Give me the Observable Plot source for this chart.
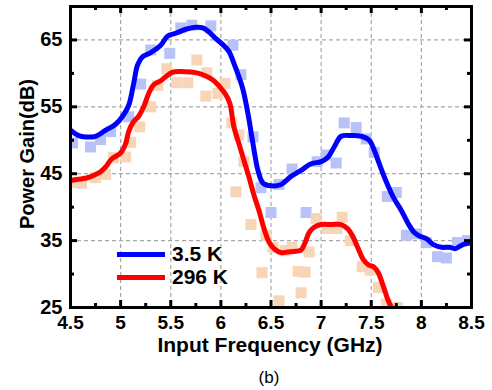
<!DOCTYPE html>
<html><head><meta charset="utf-8">
<script src="https://cdn.jsdelivr.net/npm/d3@7"></script>
<script src="https://cdn.jsdelivr.net/npm/@observablehq/plot@0.6"></script>
<style>
body{margin:0;background:#fff;font-family:"Liberation Sans",Arial,sans-serif;}
#wrap{position:relative;width:492px;height:390px;background:#fff;}
#wrap svg{position:absolute;left:0;top:0;}
.abs{position:absolute;white-space:nowrap;color:#000;}
</style></head><body>
<div id="wrap"></div>
<script>
// ---- data ----
const seriesNames = ["3.5 K", "296 K"];
const lineColors = ["#0000ff", "#ff0000"];
const squareColors = ["#b8c2f8", "#f9d5b7"];
const xTicks = [4.5, 5, 5.5, 6, 6.5, 7, 7.5, 8, 8.5];
const xMinor = [4.75, 5.25, 5.75, 6.25, 6.75, 7.25, 7.75, 8.25];
const yTicks = [25, 35, 45, 55, 65];
const yMinor = [30, 40, 50, 60];
const xGridVals = [5, 5.5, 6, 6.5, 7, 7.5, 8];
const yGridVals = [35, 45, 55, 65];

// 3.5 K smoothed line
const coldLineFreq = [4.50,4.58,4.65,4.75,4.85,4.95,5.02,5.08,5.13,5.17,5.22,5.30,5.40,5.47,5.55,5.65,5.75,5.82,5.88,5.95,6.02,6.08,6.13,6.18,6.22,6.27,6.32,6.37,6.42,6.50,6.60,6.70,6.80,6.90,7.00,7.07,7.13,7.20,7.30,7.40,7.48,7.53,7.58,7.65,7.72,7.80,7.87,7.93,7.98,8.05,8.12,8.20,8.28,8.34,8.40,8.46,8.50];
const coldLineGain = [51.5,50.7,50.5,50.6,51.5,52.4,53.6,55.2,58.5,61.3,62.5,63.1,64.2,65.6,66.0,66.6,66.9,66.8,66.2,65.2,64.3,63.3,61.5,59.5,57.6,54.0,49.5,45.5,43.6,43.2,43.4,44.6,45.5,46.5,46.8,47.5,49.0,50.6,50.7,50.6,50.0,48.5,46.5,43.8,41.5,39.5,37.5,36.2,35.7,35.3,34.4,34.0,34.0,33.8,34.3,34.6,34.7];
// 3.5 K measured squares
const coldPtFreq = [4.52,4.70,4.80,4.90,5.08,5.20,5.30,5.49,5.60,5.71,5.90,6.12,6.20,6.32,6.40,6.50,6.58,6.71,6.85,6.96,7.05,7.15,7.23,7.35,7.45,7.53,7.66,7.75,7.85,7.95,8.05,8.16,8.25,8.36,8.46];
const coldPtGain = [49.6,49.0,50.1,51.3,53.5,58.4,63.5,63.0,66.8,67.2,67.1,64.2,59.8,50.5,42.9,39.2,43.4,45.7,39.2,46.8,47.8,46.6,52.6,51.9,50.2,48.2,41.6,42.2,35.8,36.0,34.7,32.6,32.4,34.7,35.0];

// 296 K smoothed line
const warmLineFreq = [4.50,4.60,4.67,4.75,4.80,4.85,4.91,5.00,5.05,5.08,5.13,5.18,5.23,5.28,5.33,5.40,5.45,5.52,5.60,5.70,5.78,5.85,5.92,6.00,6.05,6.09,6.13,6.18,6.23,6.28,6.33,6.38,6.43,6.48,6.53,6.60,6.67,6.75,6.80,6.84,6.88,6.93,7.00,7.10,7.20,7.27,7.32,7.37,7.42,7.47,7.53,7.57,7.62,7.67,7.72];
const warmLineGain = [44.0,44.2,44.4,44.9,45.3,46.0,47.2,48.1,49.5,51.3,52.8,53.6,55.0,57.0,58.3,58.9,59.5,60.2,60.3,60.2,60.0,59.6,59.0,57.8,56.8,55.5,52.0,49.5,47.0,44.5,41.8,39.5,36.8,34.8,33.8,33.2,33.3,33.4,33.6,34.7,36.2,37.0,37.4,37.4,37.4,36.7,35.5,33.8,32.2,31.4,31.0,30.2,28.2,26.0,24.5];
// 296 K measured squares
const warmPtFreq = [4.51,4.61,4.75,4.85,4.93,5.05,5.10,5.19,5.30,5.37,5.46,5.56,5.67,5.76,5.86,5.85,5.97,6.04,6.11,6.18,6.23,6.15,6.30,6.45,6.52,6.41,6.58,6.64,6.71,6.77,6.80,6.84,6.88,6.95,7.06,7.16,7.21,7.29,7.41,7.49,7.57,7.65,7.76];
const warmPtGain = [43.7,43.6,44.4,44.9,47.4,47.5,49.7,52.0,55.0,58.2,60.7,58.6,58.6,62.0,60.1,56.6,57.0,58.5,52.6,50.8,46.8,42.3,37.4,35.8,34.0,30.2,26.0,33.5,34.0,30.4,27.2,30.3,33.3,38.3,36.8,36.8,38.5,35.0,31.1,30.6,28.0,25.5,25.0];

const zip = (xs, ys) => xs.map((x, i) => ({x, y: ys[i]}));
const coldLine = zip(coldLineFreq, coldLineGain);
const warmLine = zip(warmLineFreq, warmLineGain);
const coldPts = zip(coldPtFreq, coldPtGain);
const warmPts = zip(warmPtFreq, warmPtGain);

// ---- layout ----
const W = 492, H = 355, mL = 70, mR = 21, mT = 6, mB = 48;
const plotW = W - mL - mR, plotH = H - mT - mB;
const FONT = '"Liberation Sans", Arial, sans-serif';
const majorLen = 7, minorLen = 4;

const chart = Plot.plot({
  width: W, height: H,
  marginLeft: mL, marginRight: mR, marginTop: mT, marginBottom: mB,
  x: {domain: [4.5, 8.5]},
  y: {domain: [25, 70]},
  style: {fontFamily: FONT, background: "white", color: "black", overflow: "visible"},
  marks: [
    Plot.gridX(xGridVals, {stroke: "#a8a8a8", strokeOpacity: 1, strokeWidth: 1.2, strokeDasharray: "4,3"}),
    Plot.gridY(yGridVals, {stroke: "#a8a8a8", strokeOpacity: 1, strokeWidth: 1.2, strokeDasharray: "4,3"}),
    Plot.dot(coldPts, {x: "x", y: "y", symbol: "square", r: 6.2, fill: squareColors[0], stroke: "none", clip: true}),
    Plot.dot(warmPts, {x: "x", y: "y", symbol: "square", r: 6.2, fill: squareColors[1], stroke: "none", clip: true}),
    Plot.line(coldLine, {x: "x", y: "y", stroke: lineColors[0], strokeWidth: 5, curve: "catmull-rom", clip: true}),
    Plot.line(warmLine, {x: "x", y: "y", stroke: lineColors[1], strokeWidth: 5, curve: "catmull-rom", clip: true}),
    // inward ticks
    Plot.tickX(xTicks, {x: d => d, insetTop: plotH - majorLen, stroke: "black", strokeWidth: 3}),
    Plot.tickX(xTicks, {x: d => d, insetBottom: plotH - majorLen, stroke: "black", strokeWidth: 3}),
    Plot.tickX(xMinor, {x: d => d, insetTop: plotH - minorLen, stroke: "black", strokeWidth: 3}),
    Plot.tickX(xMinor, {x: d => d, insetBottom: plotH - minorLen, stroke: "black", strokeWidth: 3}),
    Plot.tickY(yTicks, {y: d => d, insetRight: plotW - majorLen, stroke: "black", strokeWidth: 3}),
    Plot.tickY(yTicks, {y: d => d, insetLeft: plotW - majorLen, stroke: "black", strokeWidth: 3}),
    Plot.tickY(yMinor, {y: d => d, insetRight: plotW - minorLen, stroke: "black", strokeWidth: 3}),
    Plot.tickY(yMinor, {y: d => d, insetLeft: plotW - minorLen, stroke: "black", strokeWidth: 3}),
    Plot.frame({stroke: "black", strokeWidth: 3}),
    Plot.axisX(xTicks, {tickSize: 0, tickPadding: 8, fontSize: 19, fontWeight: "bold", label: null, tickFormat: d => String(d)}),
    Plot.axisY(yTicks, {tickSize: 0, tickPadding: 8, fontSize: 20, fontWeight: "bold", label: null, tickFormat: d => String(d)})
  ]
});

const wrap = document.getElementById("wrap");
wrap.appendChild(chart);

function addDiv(text, css) {
  const d = document.createElement("div");
  d.className = "abs";
  d.textContent = text;
  Object.assign(d.style, css);
  wrap.appendChild(d);
  return d;
}
// axis titles
addDiv("Power Gain(dB)", {left: "27px", top: "154px", fontSize: "20px", fontWeight: "bold", lineHeight: "24px",
  transform: "translate(-50%,-50%) rotate(-90deg)"});
addDiv("Input Frequency (GHz)", {left: "270px", top: "345px", fontSize: "21px", fontWeight: "bold", lineHeight: "20px",
  transform: "translate(-50%,-50%)"});
addDiv("(b)", {left: "269px", top: "378px", fontSize: "17px", lineHeight: "20px", transform: "translate(-50%,-50%)"});

// legend
const legendY = [254, 277];
seriesNames.forEach((name, i) => {
  const ln = document.createElement("div");
  ln.className = "abs";
  Object.assign(ln.style, {left: "117px", top: (legendY[i] - 2.5) + "px", width: "48px", height: "5px", background: lineColors[i]});
  wrap.appendChild(ln);
  addDiv(name, {left: "172px", top: (legendY[i] - 12) + "px", fontSize: "21px", fontWeight: "bold", lineHeight: "24px"});
});
</script>
</body></html>
